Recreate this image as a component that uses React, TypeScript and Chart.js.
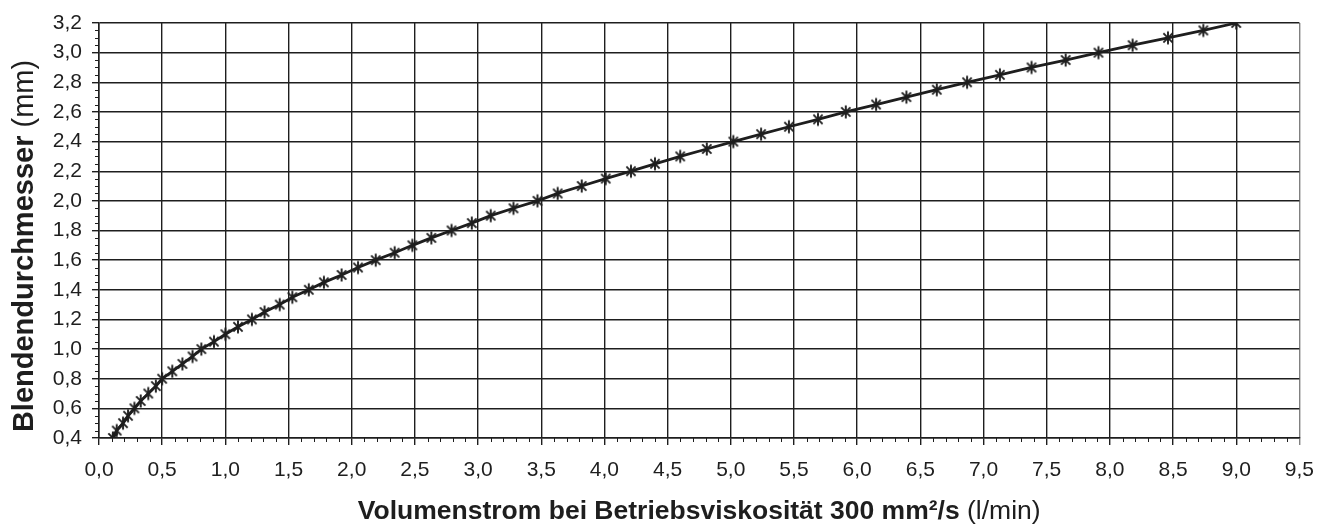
import React, { useEffect, useRef } from 'react';
import { Chart, registerables } from 'chart.js';

Chart.register(...registerables);

// Blendendurchmesser (mm) — y values of the marked points
const diameterMm = [
  0.40, 0.45, 0.50, 0.55, 0.60, 0.65, 0.70, 0.75, 0.80, 0.85,
  0.90, 0.95, 1.00, 1.05, 1.10, 1.15, 1.20, 1.25, 1.30, 1.35,
  1.40, 1.45, 1.50, 1.55, 1.60, 1.65, 1.70, 1.75, 1.80, 1.85,
  1.90, 1.95, 2.00, 2.05, 2.10, 2.15, 2.20, 2.25, 2.30, 2.35,
  2.40, 2.45, 2.50, 2.55, 2.60, 2.65, 2.70, 2.75, 2.80, 2.85,
  2.90, 2.95, 3.00, 3.05, 3.10, 3.15, 3.20,
];

// Volumenstrom (l/min) — x values
const flowLmin = [
  0.11, 0.14, 0.19, 0.23, 0.28, 0.33, 0.39, 0.45, 0.50, 0.58,
  0.66, 0.74, 0.81, 0.91, 1.00, 1.10, 1.21, 1.31, 1.43, 1.53,
  1.66, 1.78, 1.92, 2.05, 2.19, 2.34, 2.48, 2.63, 2.79, 2.95,
  3.10, 3.28, 3.47, 3.63, 3.82, 4.01, 4.21, 4.40, 4.60, 4.81,
  5.02, 5.24, 5.46, 5.69, 5.91, 6.15, 6.39, 6.63, 6.87, 7.13,
  7.38, 7.65, 7.91, 8.18, 8.46, 8.74, 9.00,
];

const xRange = [0, 9.5];
const xMajorStep = 0.5;
const xMinorStep = 0.1;
const yRange = [0.4, 3.2];
const yMajorStep = 0.2;
const yMinorStep = 0.05;

const xTitleBold = 'Volumenstrom bei Betriebsviskosität 300 mm²/s';
const xTitleUnit = '(l/min)';
const yTitleBold = 'Blendendurchmesser';
const yTitleUnit = '(mm)';

const FONT = "'Liberation Sans', Arial, Helvetica, sans-serif";
const INK = '#1e1e1e';

function fmt(v: number): string {
  return v.toFixed(1).replace('.', ',');
}

function makeAsterisk(): HTMLCanvasElement {
  const c = document.createElement('canvas');
  c.width = 16;
  c.height = 16;
  const g = c.getContext('2d')!;
  g.strokeStyle = INK;
  g.lineWidth = 1.9;
  const r = 6.5;
  g.beginPath();
  g.moveTo(8, 8 - r);
  g.lineTo(8, 8 + r);
  const d = r * Math.SQRT1_2;
  g.moveTo(8 - d, 8 - d);
  g.lineTo(8 + d, 8 + d);
  g.moveTo(8 + d, 8 - d);
  g.lineTo(8 - d, 8 + d);
  g.stroke();
  return c;
}

function drawMixedTitle(
  ctx: CanvasRenderingContext2D,
  bold: string,
  normal: string,
  size: number
) {
  ctx.font = `bold ${size}px ${FONT}`;
  const wb = ctx.measureText(bold + ' ').width;
  ctx.font = `${size}px ${FONT}`;
  const wn = ctx.measureText(normal).width;
  const start = -(wb + wn) / 2;
  ctx.textAlign = 'left';
  ctx.textBaseline = 'alphabetic';
  ctx.font = `bold ${size}px ${FONT}`;
  ctx.fillText(bold + ' ', start, 0);
  ctx.font = `${size}px ${FONT}`;
  ctx.fillText(normal, start + wb, 0);
}

const decorPlugin = {
  id: 'decor',
  afterDraw(chart: any) {
    const ctx: CanvasRenderingContext2D = chart.ctx;
    const xs = chart.scales.x;
    const ys = chart.scales.y;
    const ca = chart.chartArea;
    ctx.save();
    ctx.strokeStyle = INK;
    ctx.lineWidth = 1;
    ctx.beginPath();
    const nx = Math.round((xRange[1] - xRange[0]) / xMinorStep);
    const ratioX = Math.round(xMajorStep / xMinorStep);
    for (let i = 0; i <= nx; i++) {
      if (i % ratioX === 0) continue;
      const px = Math.round(xs.getPixelForValue(xRange[0] + i * xMinorStep)) + 0.5;
      ctx.moveTo(px, ca.bottom);
      ctx.lineTo(px, ca.bottom + 4);
    }
    const ny = Math.round((yRange[1] - yRange[0]) / yMinorStep);
    const ratioY = Math.round(yMajorStep / yMinorStep);
    for (let i = 0; i <= ny; i++) {
      if (i % ratioY === 0) continue;
      const py = Math.round(ys.getPixelForValue(yRange[0] + i * yMinorStep)) + 0.5;
      ctx.moveTo(ca.left - 4, py);
      ctx.lineTo(ca.left, py);
    }
    ctx.stroke();

    ctx.fillStyle = INK;
    // x title
    ctx.save();
    ctx.translate((ca.left + ca.right) / 2, 519);
    drawMixedTitle(ctx, xTitleBold, xTitleUnit, 26.5);
    ctx.restore();
    // y title
    ctx.save();
    ctx.translate(33, 246);
    ctx.rotate(-Math.PI / 2);
    drawMixedTitle(ctx, yTitleBold, yTitleUnit, 29);
    ctx.restore();
    ctx.restore();
  },
};

export default function App() {
  const ref = useRef<HTMLCanvasElement | null>(null);

  useEffect(() => {
    if (!ref.current) return;
    const marker = makeAsterisk();
    const points = flowLmin.map((x, i) => ({ x, y: diameterMm[i] }));
    const chart = new Chart(ref.current, {
      type: 'line',
      data: {
        datasets: [
          {
            data: points,
            borderColor: INK,
            borderWidth: 2.8,
            tension: 0,
            pointStyle: marker as any,
            pointRadius: 7,
            pointHoverRadius: 7,
            fill: false,
          },
        ],
      },
      options: {
        animation: false,
        responsive: false,
        devicePixelRatio: 1,
        events: [],
        layout: { padding: { top: 23, right: 25, left: 0, bottom: 0 } },
        plugins: {
          legend: { display: false },
          tooltip: { enabled: false },
          title: { display: false },
        },
        scales: {
          x: {
            type: 'linear',
            min: xRange[0],
            max: xRange[1],
            afterFit: (s: any) => {
              s.height = 86;
            },
            ticks: {
              stepSize: xMajorStep,
              autoSkip: false,
              maxRotation: 0,
              padding: 13,
              color: INK,
              font: { family: FONT, size: 21 },
              callback: (v: any) => fmt(Number(v)),
            },
            grid: {
              color: (c: any) => (c.tick && Math.abs(c.tick.value - xRange[1]) < 1e-6 ? '#808080' : INK),
              lineWidth: 1.4,
              tickLength: 7,
              drawTicks: true,
            },
            border: { color: INK, width: 1.5 },
          },
          y: {
            type: 'linear',
            min: yRange[0],
            max: yRange[1],
            afterFit: (s: any) => {
              s.width = 99;
            },
            ticks: {
              stepSize: yMajorStep,
              autoSkip: false,
              padding: 10,
              color: INK,
              font: { family: FONT, size: 21 },
              callback: (v: any) => fmt(Number(v)),
            },
            grid: {
              color: INK,
              lineWidth: 1.4,
              tickLength: 7,
              drawTicks: true,
            },
            border: { color: INK, width: 1.5 },
          },
        },
      },
      plugins: [decorPlugin],
    });
    return () => chart.destroy();
  }, []);

  return (
    <div style={{ position: 'absolute', left: 0, top: 0, width: 1327, height: 524, background: '#fff' }}>
      <canvas ref={ref} width={1327} height={524} style={{ display: 'block' }} />
    </div>
  );
}
